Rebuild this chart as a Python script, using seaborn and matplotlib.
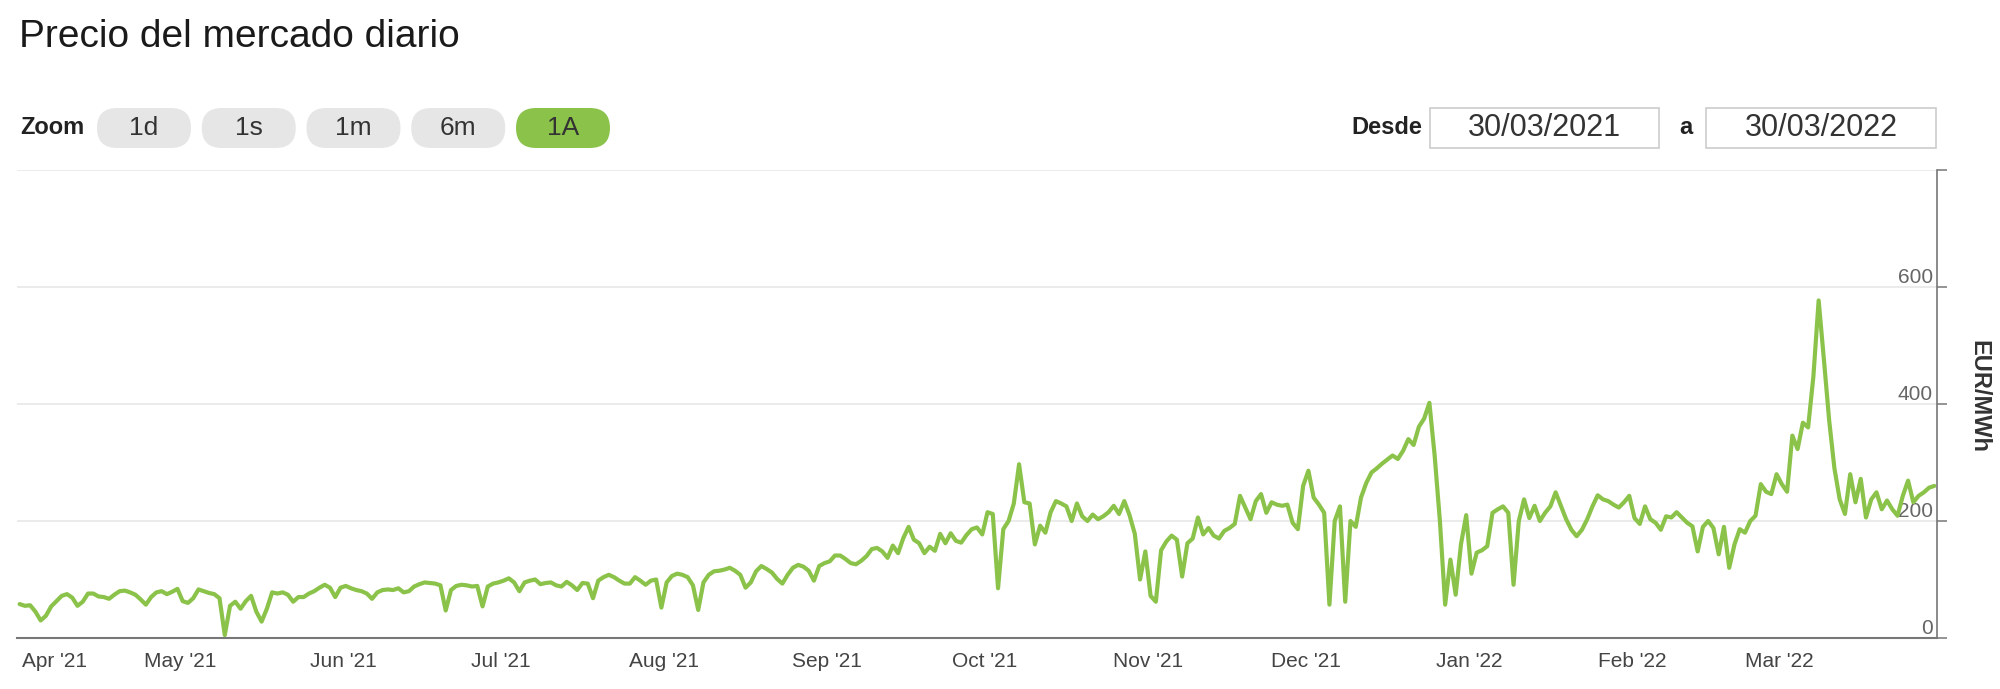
import pandas as pd
import seaborn as sns
import matplotlib.pyplot as plt
from matplotlib.patches import FancyBboxPatch, Rectangle

# ---------------------------------------------------------
# DATOS: precio diario (EUR/MWh)
# ---------------------------------------------------------
precio_mar21 = [58]
precio_abr21 = [55, 56, 45, 30, 38, 54, 63, 72, 75, 69,
                55, 62, 76, 76, 71, 70, 67, 74, 80, 81,
                78, 74, 66, 57, 70, 78, 80, 75, 79, 84]
precio_may21 = [63, 60, 68, 83, 80, 77, 75, 68, 5, 55,
                62, 50, 63, 72, 45, 28, 50, 78, 76, 78,
                74, 62, 70, 70, 76, 80, 86, 91, 86, 70, 86]
precio_jun21 = [89, 85, 82, 80, 76, 67, 78, 82, 83, 82,
                85, 78, 80, 88, 92, 95, 94, 93, 90, 47,
                82, 89, 91, 90, 88, 89, 54, 88, 93, 95]
precio_jul21 = [98, 102, 95, 80, 95, 98, 100, 92, 94, 95,
                90, 88, 96, 90, 82, 94, 93, 68, 98, 104,
                108, 104, 98, 93, 93, 104, 98, 91, 98, 100, 52]
precio_ago21 = [95, 106, 110, 108, 104, 90, 48, 95, 108, 114,
                115, 117, 120, 115, 108, 86, 95, 114, 123, 118,
                112, 101, 93, 108, 120, 125, 122, 115, 98, 123, 128]
precio_sep21 = [131, 141, 141, 135, 128, 126, 132, 140, 152, 154,
                148, 137, 158, 145, 171, 190, 168, 162, 145, 156,
                149, 178, 162, 179, 166, 163, 176, 186, 189, 177]
precio_oct21 = [215, 212, 85, 186, 200, 230, 297, 232, 230, 160,
                192, 180, 215, 234, 230, 225, 200, 230, 208, 200,
                211, 203, 208, 215, 226, 212, 234, 210, 178, 100, 148]
precio_nov21 = [72, 62, 150, 165, 175, 168, 105, 162, 170, 206,
                177, 188, 175, 170, 183, 188, 195, 243, 223, 203,
                234, 246, 214, 232, 228, 226, 228, 197, 186, 260]
precio_dic21 = [286, 240, 228, 214, 57, 200, 225, 62, 200, 190,
                240, 265, 283, 290, 298, 305, 312, 306, 320, 340,
                330, 361, 375, 402, 312, 200, 57, 134, 74, 160, 210]
precio_ene22 = [110, 146, 150, 157, 214, 220, 225, 214, 91, 200,
                237, 205, 226, 200, 214, 225, 249, 226, 203, 185,
                174, 185, 203, 225, 244, 237, 234, 228, 223, 232, 243]
precio_feb22 = [205, 195, 225, 203, 197, 185, 208, 206, 215, 206,
                197, 191, 148, 190, 200, 188, 143, 190, 120, 160,
                186, 180, 200, 209, 263, 250, 246, 280]
precio_mar22 = [263, 250, 346, 323, 368, 360, 447, 577, 476, 372,
                290, 237, 212, 280, 232, 272, 206, 237, 249, 220,
                235, 220, 209, 243, 269, 232, 243, 249, 257, 260]

inicio_meses = ['2021-04-01', '2021-05-01', '2021-06-01', '2021-07-01',
                '2021-08-01', '2021-09-01', '2021-10-01', '2021-11-01',
                '2021-12-01', '2022-01-01', '2022-02-01', '2022-03-01']
etiquetas_meses = ["Apr '21", "May '21", "Jun '21", "Jul '21", "Aug '21", "Sep '21",
                   "Oct '21", "Nov '21", "Dec '21", "Jan '22", "Feb '22", "Mar '22"]
ticks_y = [0, 200, 400, 600, 800]
etiquetas_y = ['0', '200', '400', '600', '']
botones_zoom = ['1d', '1s', '1m', '6m', '1A']
boton_activo = '1A'
fecha_desde = '30/03/2021'
fecha_hasta = '30/03/2022'

precios = (precio_mar21 + precio_abr21 + precio_may21 + precio_jun21 + precio_jul21
           + precio_ago21 + precio_sep21 + precio_oct21 + precio_nov21 + precio_dic21
           + precio_ene22 + precio_feb22 + precio_mar22)
df = pd.DataFrame({
    'fecha': pd.date_range('2021-03-31 12:00', periods=len(precios), freq='D'),
    'precio': precios,
})

# ---------------------------------------------------------
# ESTILO
# ---------------------------------------------------------
VERDE = '#8bc34a'
GRIS_EJE = '#777777'

sns.set_style("white")
plt.rcParams['font.family'] = ['Liberation Sans', 'DejaVu Sans']

W, H = 2000, 689
fig = plt.figure(figsize=(W / 100, H / 100), dpi=100)
ax = fig.add_axes([17 / W, (H - 638) / H, 1920 / W, 468 / H])


def pulg(x, y):
    # pixel (origen arriba-izquierda) -> pulgadas de la figura
    return x / 100, (H - y) / 100


# ---------------------------------------------------------
# SERIE
# ---------------------------------------------------------
sns.lineplot(data=df, x='fecha', y='precio', color=VERDE, linewidth=3.0, ax=ax)
for ln in ax.get_lines():
    ln.set_solid_joinstyle('round')

ax.set_xlim(pd.Timestamp('2021-03-31'), pd.Timestamp('2022-03-31'))
ax.set_ylim(0, 800)
ax.set_xlabel('')
ax.set_ylabel('')

ax.set_yticks(ticks_y)
ax.set_yticklabels(etiquetas_y)
ax.yaxis.grid(True, color='#e6e6e6', linewidth=1.1)
ax.set_axisbelow(True)
ax.tick_params(axis='y', left=False, right=True, labelleft=False, labelright=True,
               direction='out', length=7, width=1.1, color=GRIS_EJE,
               pad=-9.9, labelsize=15, labelcolor='#666666')
for lbl in ax.get_yticklabels():
    lbl.set_horizontalalignment('right')
    lbl.set_verticalalignment('bottom')

ax.set_xticks(pd.to_datetime(inicio_meses))
ax.set_xticklabels(etiquetas_meses)
ax.tick_params(axis='x', direction='out', length=7, width=1.1, color=GRIS_EJE,
               pad=3, labelsize=15, labelcolor='#444444')
ax.get_xticklabels()[0].set_horizontalalignment('left')

for s in ['left', 'top']:
    ax.spines[s].set_visible(False)
ax.spines['bottom'].set_color(GRIS_EJE)
ax.spines['bottom'].set_linewidth(1.5)
ax.spines['right'].set_color(GRIS_EJE)
ax.spines['right'].set_linewidth(1.2)

fig.text(*pulg(1979, 396), 'EUR/MWh', rotation=270, fontsize=17, fontweight='bold',
         color='#333333', ha='center', va='center', transform=fig.dpi_scale_trans)

# ---------------------------------------------------------
# CABECERA: titulo, botones de zoom y fechas
# ---------------------------------------------------------
fig.text(*pulg(19, 47), 'Precio del mercado diario', fontsize=28, color='#1a1a1a',
         va='baseline', ha='left', transform=fig.dpi_scale_trans)

fig.text(*pulg(20, 128), 'Zoom', fontsize=17, fontweight='bold', color='#222222',
         va='center', ha='left', transform=fig.dpi_scale_trans)
for i, b in enumerate(botones_zoom):
    x0 = 97 + i * 104.75
    boton = FancyBboxPatch(pulg(x0, 148), 0.94, 0.40,
                           boxstyle='round,pad=0,rounding_size=0.2',
                           fc=VERDE if b == boton_activo else '#e6e6e6', ec='none',
                           transform=fig.dpi_scale_trans)
    fig.add_artist(boton)
    fig.text(*pulg(x0 + 47, 128), b, fontsize=19, color='#333333',
             ha='center', va='center', transform=fig.dpi_scale_trans)

fig.text(*pulg(1351, 128), 'Desde', fontsize=17, fontweight='bold', color='#222222',
         va='center', ha='left', transform=fig.dpi_scale_trans)
fig.text(*pulg(1679, 128), 'a', fontsize=17, fontweight='bold', color='#222222',
         va='center', ha='left', transform=fig.dpi_scale_trans)
for x0, ancho, txt in [(1430, 229, fecha_desde), (1706, 230, fecha_hasta)]:
    caja = Rectangle(pulg(x0, 148), ancho / 100, 0.40, fc='white', ec='#cccccc',
                     lw=1.2, transform=fig.dpi_scale_trans)
    fig.add_artist(caja)
    fig.text(*pulg(x0 + ancho / 2, 128), txt, fontsize=22, color='#333333',
             ha='center', va='center', transform=fig.dpi_scale_trans)

fig.savefig('out.png', dpi=100)
